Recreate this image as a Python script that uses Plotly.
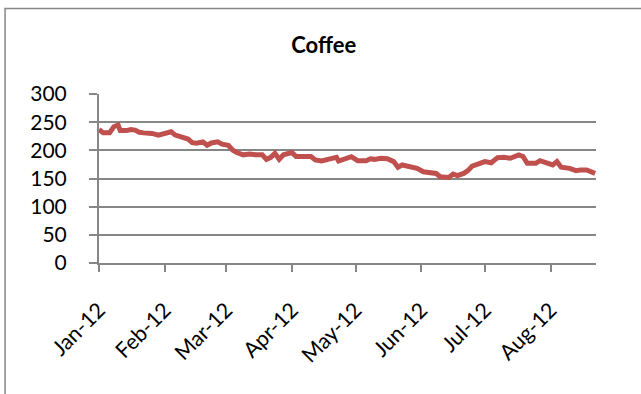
import plotly.graph_objects as go

# Daily coffee price readings, Jan–Aug 2012
dates = [
    "2012-01-01", "2012-01-03", "2012-01-06", "2012-01-08", "2012-01-10", "2012-01-11",
    "2012-01-14", "2012-01-16", "2012-01-18", "2012-01-20", "2012-01-22", "2012-01-26",
    "2012-01-29", "2012-02-01", "2012-02-04", "2012-02-06", "2012-02-09", "2012-02-12",
    "2012-02-14", "2012-02-16", "2012-02-19", "2012-02-21", "2012-02-23", "2012-02-26",
    "2012-02-28", "2012-03-02", "2012-03-04", "2012-03-06", "2012-03-09", "2012-03-12",
    "2012-03-15", "2012-03-18", "2012-03-20", "2012-03-22", "2012-03-24", "2012-03-26",
    "2012-03-28", "2012-04-01", "2012-04-03", "2012-04-08", "2012-04-10", "2012-04-12",
    "2012-04-15", "2012-04-18", "2012-04-22", "2012-04-23", "2012-04-26", "2012-04-29",
    "2012-05-02", "2012-05-06", "2012-05-08", "2012-05-10", "2012-05-13", "2012-05-16",
    "2012-05-19", "2012-05-21", "2012-05-23", "2012-05-27", "2012-05-30", "2012-06-02",
    "2012-06-05", "2012-06-08", "2012-06-10", "2012-06-14", "2012-06-16", "2012-06-18",
    "2012-06-21", "2012-06-23", "2012-06-25", "2012-06-28", "2012-07-01", "2012-07-04",
    "2012-07-07", "2012-07-10", "2012-07-13", "2012-07-17", "2012-07-19", "2012-07-21",
    "2012-07-25", "2012-07-27", "2012-07-30", "2012-08-02", "2012-08-04", "2012-08-06",
    "2012-08-10", "2012-08-13", "2012-08-15", "2012-08-18", "2012-08-22",
]
prices = [
    237, 231, 231, 242, 245, 235,
    235, 237, 236, 232, 231, 230,
    227, 230, 233, 227, 224, 220,
    213.5, 212.5, 215, 209, 213, 215,
    211, 209, 200.6, 196, 192, 193.5,
    192, 192, 184, 187.6, 194.7, 184,
    192, 196, 189, 189, 189, 183,
    181, 184, 187.6, 181, 184, 188.7,
    181.6, 181.6, 185, 184, 186, 185,
    180, 170, 174, 171, 168, 162,
    160, 159, 153, 152, 158, 155,
    159, 164, 172, 175.7, 180, 178,
    187, 187.6, 186, 192, 189, 177,
    177, 181.6, 177, 174, 180, 170,
    168, 164, 165, 165, 159,
]

y_ticks = [0, 50, 100, 150, 200, 250, 300]

GRID = "#868686"
LINE = "#C0504D"
FONT = "Lato, 'Open Sans', sans-serif"

fig = go.Figure(
    go.Scatter(
        x=dates,
        y=prices,
        mode="lines",
        line=dict(color=LINE, width=5),
        hoverinfo="skip",
    )
)

fig.update_layout(
    width=641,
    height=394,
    margin=dict(l=99, r=45, t=94, b=131),
    paper_bgcolor="white",
    plot_bgcolor="white",
    showlegend=False,
    font=dict(family=FONT, size=21, color="#000000"),
    title=dict(
        text="<b>Coffee</b>",
        x=0.505,
        xanchor="center",
        y=0.885,
        yanchor="middle",
        font=dict(family=FONT, size=22, color="#000000"),
    ),
    shapes=[
        # outer chart frame
        dict(
            type="rect", xref="paper", yref="paper",
            x0=-0.189, x1=1.3, y0=-1.0, y1=1.506,
            line=dict(color=GRID, width=1.5),
            fillcolor="rgba(0,0,0,0)",
            layer="below",
        )
    ],
)

fig.update_xaxes(
    type="date",
    range=["2012-01-01", "2012-08-22 10:00"],
    tick0="2012-01-01",
    dtick="M1",
    tickformat="%b-%y",
    tickangle=-45,
    ticks="outside",
    ticklen=7,
    tickwidth=1.5,
    tickcolor=GRID,
    ticklabelstandoff=17,
    tickfont=dict(size=21.5),
    showline=True,
    linecolor=GRID,
    linewidth=2,
    showgrid=False,
    zeroline=False,
)

fig.update_yaxes(
    range=[0, 300],
    tickvals=y_ticks,
    ticks="outside",
    ticklen=8,
    tickwidth=1.5,
    tickcolor=GRID,
    ticklabelstandoff=18,
    showline=True,
    linecolor=GRID,
    linewidth=2,
    showgrid=True,
    gridcolor=GRID,
    gridwidth=1.5,
    zeroline=False,
)

fig.write_html("out.html")
